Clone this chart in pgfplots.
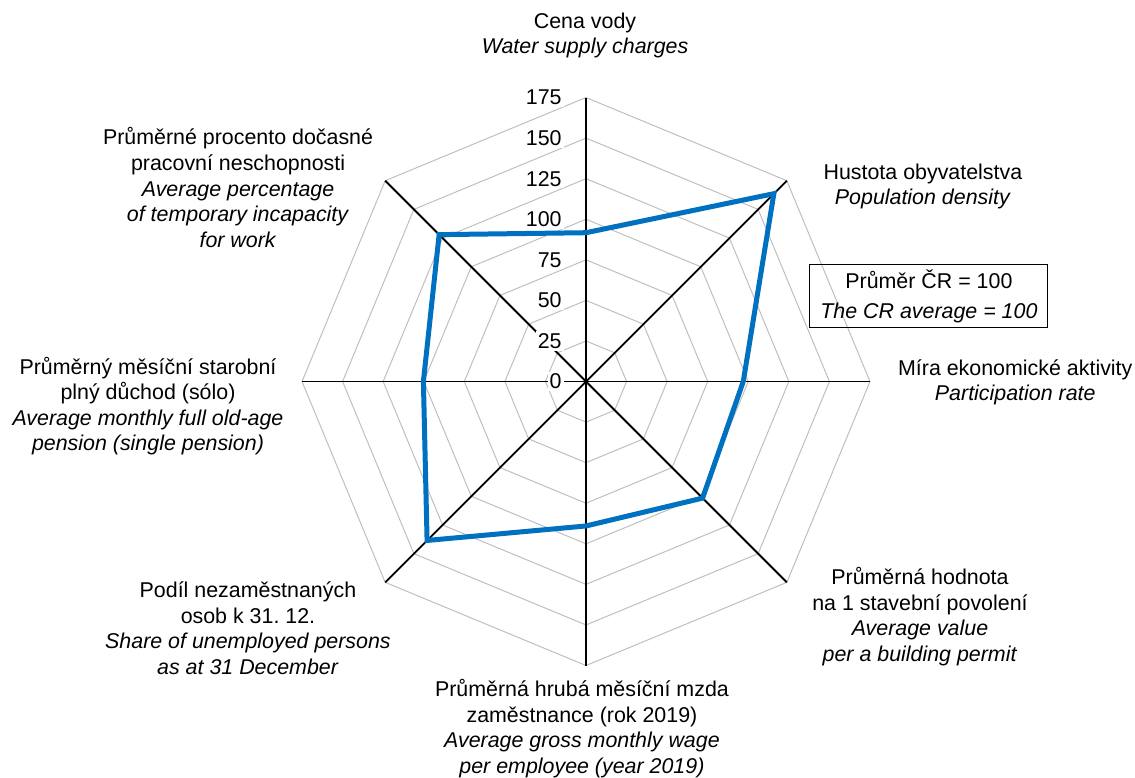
\documentclass[border=0pt]{standalone}
\usepackage{fontspec}
\setmainfont{Liberation Sans}
\usepackage{pgfplots}
\pgfplotsset{compat=1.18}
\usepgfplotslibrary{polar}
\definecolor{serblue}{RGB}{0,112,192}
\definecolor{gridgray}{RGB}{191,191,191}
\frenchspacing
\begin{document}
\begin{tikzpicture}[
  lbl/.style={font=\fontsize{10.7}{12.8}\selectfont, align=center, inner sep=0pt},
  tck/.style={font=\fontsize{10.7}{12.8}\selectfont, anchor=east, fill=white, inner sep=1pt, xshift=-11pt},
]
\begin{axis}[
  width=567.5pt, height=388.5pt, scale only axis,
  xmin=-361.1, xmax=338.3, ymin=-243.7, ymax=235.1,
  hide axis, clip=false,
]
\draw[draw=none] (rel axis cs:0,0) rectangle (rel axis cs:1,1);
\pgfplotsinvokeforeach{25,50,...,175}{
  \addplot[gridgray, line width=0.5pt, data cs=polar] coordinates {(90,#1)(45,#1)(0,#1)(-45,#1)(-90,#1)(-135,#1)(180,#1)(135,#1)(90,#1)};
}
\pgfplotsinvokeforeach{0,45,...,315}{
  \addplot[black, line width=0.9pt, data cs=polar] coordinates {(#1,0)(#1,175)};
}
\addplot[serblue, line width=2.5pt, line join=miter, data cs=polar] coordinates {(90,91.7)(45,163.7)(0,96.9)(-45,101.6)(-90,89)(-135,138.5)(180,100.2)(135,128)(90,91.7)(45,163.7)};
\pgfplotsinvokeforeach{0,25,...,175}{
  \node[tck] at (axis cs:0,#1) {#1};
}
\node[lbl] at (axis cs:-0.6,213.2) {Cena vody\\\textit{Water supply charges}};
\node[lbl] at (axis cs:207.6,120.1) {Hustota obyvatelstva\\\textit{Population density}};
\node[lbl, draw=black, line width=0.5pt, minimum width=119pt, minimum height=31.5pt, font=\fontsize{10.7}{15}\selectfont] at (axis cs:211.3,52.4) {Průměr ČR = 100\\\textit{The CR average = 100}};
\node[lbl] at (axis cs:264.5,-0.6) {Míra ekonomické aktivity\\\textit{Participation rate}};
\node[lbl] at (axis cs:205.8,-144.8) {Průměrná hodnota\\na 1 stavební povolení\\\textit{Average value}\\\textit{per a building permit}};
\node[lbl] at (axis cs:-2.5,-213.8) {Průměrná hrubá měsíční mzda\\zaměstnance (rok 2019)\\\textit{Average gross monthly wage}\\\textit{per employee (year 2019)}};
\node[lbl] at (axis cs:-208.3,-151.9) {Podíl nezaměstnaných\\osob k 31. 12.\\\textit{Share of unemployed persons}\\\textit{as at 31 December}};
\node[lbl] at (axis cs:-269.9,-15.1) {Průměrný měsíční starobní\\plný důchod (sólo)\\\textit{Average monthly full old-age}\\\textit{pension (single pension)}};
\node[lbl] at (axis cs:-214.4,119.5) {Průměrné procento dočasné\\pracovní neschopnosti\\\textit{Average percentage}\\\textit{of temporary incapacity}\\\textit{for work}};
\end{axis}
\end{tikzpicture}
\end{document}
